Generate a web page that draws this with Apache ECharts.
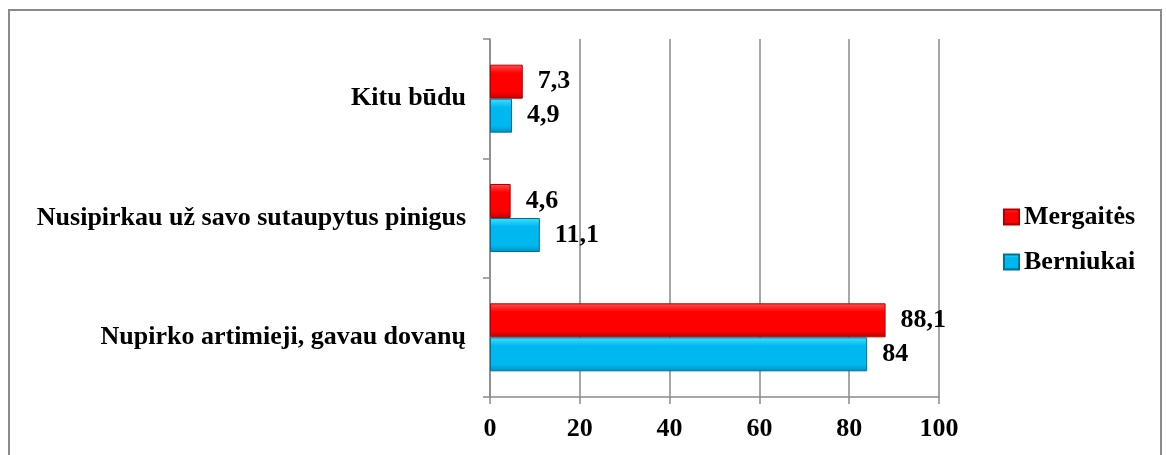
<!DOCTYPE html>
<html>
<head>
<meta charset="utf-8">
<script src="https://cdn.jsdelivr.net/npm/echarts@6/dist/echarts.min.js"></script>
<style>
  html, body { margin: 0; padding: 0; background: #fff; }
  #chart { width: 1166px; height: 455px; }
</style>
</head>
<body>
<div id="chart"></div>
<script>
  // kategorijos (apačia -> viršus)
  const categories = ['Nupirko artimieji, gavau dovanų', 'Nusipirkau už savo sutaupytus pinigus', 'Kitu būdu'];
  const mergaites = [88.1, 4.6, 7.3];
  const berniukai = [84, 11.1, 4.9];
  const xTicks = [0, 20, 40, 60, 80, 100];

  const font = '"Liberation Serif", "Times New Roman", serif';

  function grad(top, mid, bottom) {
    return new echarts.graphic.LinearGradient(0, 0, 0, 1, [
      { offset: 0, color: top },
      { offset: 0.25, color: mid },
      { offset: 0.8, color: mid },
      { offset: 1, color: bottom }
    ]);
  }

  const valueLabel = {
    show: true,
    position: 'right',
    distance: 15,
    fontFamily: font,
    fontSize: 26,
    fontWeight: 'bold',
    color: '#000',
    formatter: p => String(p.value).replace('.', ',')
  };

  const myChart = echarts.init(document.getElementById('chart'));
  myChart.setOption({
    animation: false,
    graphic: [{
      type: 'rect',
      shape: { x: 9, y: 10, width: 1152, height: 470 },
      style: { fill: 'none', stroke: '#8a8a8a', lineWidth: 2 }
    }],
    grid: { left: 490, right: 227, top: 39, bottom: 58 },
    legend: {
      orient: 'vertical',
      left: 998,
      top: 199,
      itemWidth: 15,
      itemHeight: 15,
      itemGap: 19,
      icon: 'rect',
      data: ['Mergaitės', 'Berniukai'],
      textStyle: { fontFamily: font, fontSize: 26, fontWeight: 'bold', color: '#000' }
    },
    xAxis: {
      type: 'value',
      min: xTicks[0],
      max: xTicks[xTicks.length - 1],
      interval: 20,
      axisLine: { show: true, lineStyle: { color: '#8a8a8a', width: 1.5 } },
      axisTick: { show: true, length: 7, lineStyle: { color: '#8a8a8a', width: 1.5 } },
      splitLine: { show: true, lineStyle: { color: '#8a8a8a', width: 1.5 } },
      axisLabel: { margin: 19, fontFamily: font, fontSize: 26, fontWeight: 'bold', color: '#000' }
    },
    yAxis: {
      type: 'category',
      data: categories,
      axisLine: { show: true, lineStyle: { color: '#8a8a8a', width: 1.5 } },
      axisTick: { show: true, length: 7, lineStyle: { color: '#8a8a8a', width: 1.5 } },
      axisLabel: { margin: 24, fontFamily: font, fontSize: 26, fontWeight: 'bold', color: '#000' }
    },
    series: [
      {
        name: 'Mergaitės',
        type: 'bar',
        data: mergaites,
        barCategoryGap: '43%',
        barGap: '0%',
        itemStyle: { color: grad('#ff5050', '#ff0000', '#c00000'), borderColor: '#b00000', borderWidth: 1 },
        label: valueLabel
      },
      {
        name: 'Berniukai',
        type: 'bar',
        data: berniukai,
        barCategoryGap: '43%',
        barGap: '0%',
        itemStyle: { color: grad('#40e0ff', '#00b8f0', '#0090c0'), borderColor: '#00709a', borderWidth: 1 },
        label: valueLabel
      }
    ]
  });
</script>
</body>
</html>
